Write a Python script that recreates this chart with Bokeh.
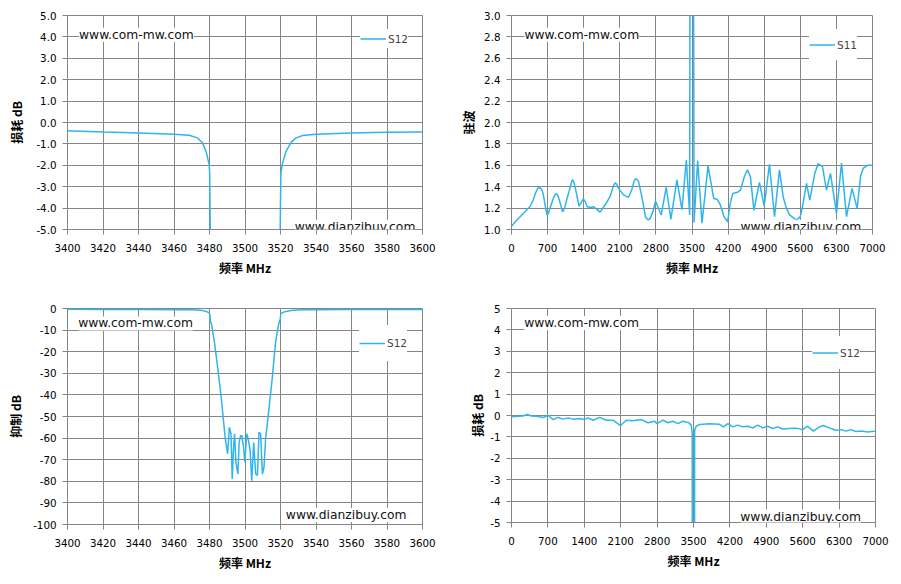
from bokeh.plotting import figure
from bokeh.models import Range1d, FixedTicker, PrintfTickFormatter, Label, Legend, LegendItem
from bokeh.layouts import row, column
from bokeh.embed import file_html
from bokeh.resources import INLINE

# ---------------- data ----------------
# narrow-band S12 (3400-3600 MHz), dB
freq_nb = [3400, 3420.6, 3440.3, 3460, 3468.5, 3473.2, 3476, 3478.3, 3479.8, 3480.1,
           3480.5, 3481.2, 3482.8, 3484.7, 3486.5, 3487.8, 3488.9, 3490.2, 3491.2, 3492.1,
           3492.8, 3493.6, 3494.1, 3494.9, 3496, 3496.7, 3497.5, 3498.2, 3499.2, 3499.9,
           3501, 3502, 3502.9, 3503.8, 3504.9, 3506, 3507, 3507.9, 3508.8, 3509.8,
           3510.7, 3511.6, 3513.5, 3515.3, 3517.2, 3519.0, 3519.8, 3520.2, 3521.2, 3523.1,
           3525.9, 3528.8, 3532.5, 3540, 3559.7, 3580.4, 3600]
s12_nb = [-0.38, -0.44, -0.49, -0.55, -0.60, -0.72, -0.95, -1.42, -1.97, -2.35,
          -5.5, -7.5, -15.7, -28.0, -40.4, -51.2, -60.4, -67.3, -55.0, -58.0,
          -78.9, -63.5, -58.0, -71.2, -76.6, -62.0, -58.9, -58.9, -64.3, -71.2,
          -58.0, -61.2, -65.8, -79.7, -62.0, -76.6, -77.3, -57.3, -58.0, -76.6,
          -73.5, -60.4, -46.5, -32.7, -15.7, -7.0, -5.2, -2.35, -1.89, -1.35,
          -0.93, -0.72, -0.61, -0.55, -0.49, -0.46, -0.44]

# wide-band VSWR (S11), 0-7000 MHz
freq_vswr = [0, 80, 162, 260, 356, 421, 470, 510, 545, 583, 610, 635, 665, 693, 715,
             745, 810, 850, 875, 900, 927, 991, 1030, 1069, 1134, 1165, 1186, 1205, 1231,
             1309, 1350, 1393, 1430, 1471, 1530, 1588, 1650, 1717, 1814, 1912, 1980, 2009,
             2040, 2074, 2171, 2268, 2333, 2370, 2398, 2430, 2463, 2527, 2600, 2650, 2690,
             2741, 2793, 2851, 2903, 3000, 3090, 3208, 3305, 3390, 3455, 3470, 3510, 3540,
             3610, 3694, 3811, 3921, 3986, 4050, 4120, 4190, 4240, 4290, 4394, 4440, 4520,
             4576, 4634, 4700, 4808, 4900, 5002, 5100, 5196, 5267, 5330, 5396, 5526, 5600,
             5654, 5720, 5784, 5881, 5945, 6030, 6108, 6185, 6302, 6399, 6496, 6604, 6701,
             6770, 6818, 6900, 7000]
vswr = [1.03, 1.075, 1.117, 1.165, 1.213, 1.276, 1.345, 1.385, 1.392, 1.378, 1.34, 1.276,
        1.19, 1.133, 1.15, 1.197, 1.29, 1.33, 1.335, 1.318, 1.276, 1.165, 1.2, 1.276,
        1.387, 1.445, 1.467, 1.45, 1.403, 1.219, 1.25, 1.286, 1.26, 1.213, 1.205, 1.213,
        1.19, 1.162, 1.229, 1.308, 1.41, 1.435, 1.425, 1.387, 1.324, 1.30, 1.371, 1.44,
        1.473, 1.47, 1.45, 1.308, 1.115, 1.09, 1.104, 1.165, 1.265, 1.197, 1.135, 1.395,
        1.095, 1.463, 1.185, 1.65, 1.135, 8.0, 8.0, 1.065, 1.645, 1.06, 1.597, 1.29,
        1.283, 1.23, 1.12, 1.072, 1.24, 1.337, 1.35, 1.37, 1.5, 1.557, 1.49, 1.18, 1.44,
        1.218, 1.61, 1.12, 1.558, 1.306, 1.2, 1.135, 1.088, 1.12, 1.243, 1.43, 1.275,
        1.524, 1.615, 1.587, 1.369, 1.524, 1.15, 1.62, 1.12, 1.384, 1.197, 1.5, 1.571,
        1.60, 1.60]

# wide-band S12, 0-7000 MHz, dB
freq_wb = [0, 128, 224, 301, 384, 467, 544, 608, 704, 800, 896, 992, 1088, 1184, 1312,
           1395, 1472, 1568, 1696, 1824, 1952, 2099, 2208, 2336, 2496, 2624, 2752, 2797,
           2912, 3008, 3104, 3200, 3296, 3411, 3456, 3475, 3490, 3510, 3522, 3552, 3616,
           3808, 4000, 4077, 4160, 4256, 4352, 4448, 4544, 4640, 4736, 4832, 4928, 5024,
           5120, 5216, 5344, 5472, 5600, 5696, 5805, 5920, 5997, 6112, 6240, 6336, 6432,
           6528, 6624, 6752, 6848, 7000]
s12_wb = [-0.06, -0.03, -0.02, 0.05, -0.02, -0.03, -0.06, -0.09, 0.0, -0.19, -0.09, -0.17,
          -0.11, -0.17, -0.14, -0.19, -0.11, -0.22, -0.09, -0.22, -0.22, -0.47, -0.22, -0.25,
          -0.19, -0.34, -0.27, -0.38, -0.22, -0.34, -0.27, -0.38, -0.27, -0.34, -0.45, -0.84,
          -60, -60, -0.7, -0.5, -0.42, -0.39, -0.41, -0.53, -0.38, -0.53, -0.45, -0.53,
          -0.5, -0.58, -0.45, -0.58, -0.5, -0.61, -0.53, -0.63, -0.61, -0.59, -0.66, -0.5,
          -0.73, -0.53, -0.47, -0.58, -0.69, -0.66, -0.73, -0.66, -0.75, -0.73, -0.77, -0.73]

ticks_nb = list(range(3400, 3601, 20))
ticks_wb = list(range(0, 7001, 700))
ticks_y1 = [-5, -4, -3, -2, -1, 0, 1, 2, 3, 4, 5]
ticks_y2 = [1.0, 1.2, 1.4, 1.6, 1.8, 2.0, 2.2, 2.4, 2.6, 2.8, 3.0]
ticks_y3 = list(range(-100, 1, 10))
ticks_y4 = [-5, -4, -3, -2, -1, 0, 1, 2, 3, 4, 5]

xlabel = "频率 MHz"
wm1 = "www.com-mw.com"
wm2 = "www.dianzibuy.com"

# ---------------- style ----------------
GRID = "#858585"
LINE = "#2EB5EC"
TFONT = "DejaVu Sans"
CJK = "Noto Sans CJK SC"


def make_fig(xr, yr, xt, yt, yfmt, ylab, fw, fh, bl, br, bt, bb, ystand):
    p = figure(frame_width=fw, frame_height=fh,
               min_border_left=bl, min_border_right=br,
               min_border_top=bt, min_border_bottom=bb,
               x_range=Range1d(*xr), y_range=Range1d(*yr),
               output_backend="svg", toolbar_location=None)
    p.background_fill_color = "white"
    p.border_fill_color = "white"
    p.outline_line_color = GRID
    p.outline_line_width = 1
    p.xaxis.ticker = FixedTicker(ticks=xt)
    p.yaxis.ticker = FixedTicker(ticks=yt)
    p.xaxis.formatter = PrintfTickFormatter(format="%d")
    p.yaxis.formatter = PrintfTickFormatter(format=yfmt)
    for ax in (p.xaxis[0], p.yaxis[0]):
        ax.axis_line_color = GRID
        ax.major_tick_line_color = GRID
        ax.major_tick_out = 5
        ax.major_tick_in = 0
        ax.minor_tick_line_color = None
        ax.major_label_text_font = TFONT
        ax.major_label_text_font_size = "10.3px"
        ax.major_label_text_color = "black"
        ax.axis_label_text_font = CJK
        ax.axis_label_text_font_style = "bold"
        ax.axis_label_text_font_size = "12px"
        ax.axis_label_text_color = "black"
    p.xaxis.axis_label = xlabel
    p.yaxis.axis_label = ylab
    p.xaxis.major_label_standoff = 9
    p.xaxis.axis_label_standoff = 4
    p.yaxis.major_label_standoff = 6
    p.yaxis.axis_label_standoff = ystand
    p.xgrid.grid_line_color = GRID
    p.ygrid.grid_line_color = GRID
    p.xgrid.grid_line_width = 1
    p.ygrid.grid_line_width = 1
    return p


def add_line(p, x, y, name, loc, pad, lh):
    r = p.line(x, y, line_color=LINE, line_width=1.5)
    leg = Legend(items=[LegendItem(label=name, renderers=[r])], location=loc,
                 padding=pad, margin=0, spacing=0, glyph_width=26, glyph_height=lh,
                 label_height=lh, label_standoff=2, border_line_color=None,
                 background_fill_color="white", background_fill_alpha=1.0,
                 label_text_font=TFONT, label_text_font_size="10.5px",
                 label_text_baseline="middle")
    p.add_layout(leg)


def add_wm(p, x, y, txt):
    p.add_layout(Label(x=x, y=y, text=txt, text_font=TFONT, text_font_size="12.3px",
                       text_baseline="middle", text_align="left", text_color="#111111",
                       background_fill_color="white"))


# panel 1
p1 = make_fig((3400, 3600), (-5, 5), ticks_nb, ticks_y1, "%.1f", "损耗 dB",
              355, 214, 67, 24, 12, 56, 8)
add_line(p1, freq_nb, s12_nb, "S12", (293, 181), 3, 19)
add_wm(p1, 3406.5, 4.1, wm1)
add_wm(p1, 3528.0, -4.88, wm2)

# panel 2
p2 = make_fig((0, 7000), (1.0, 3.0), ticks_wb, ticks_y2, "%.1f", "驻波",
              361, 214, 65, 17, 15, 53, 4)
add_line(p2, freq_vswr, vswr, "S11", (298, 169), 6, 31)
add_wm(p2, 250, 2.82, wm1)
add_wm(p2, 4440, 1.025, wm2)

# panel 3
p3 = make_fig((3400, 3600), (-100, 0), ticks_nb, ticks_y3, "%d", "抑制 dB",
              355, 216, 67, 24, 23, 48, 6)
add_line(p3, freq_nb, s12_nb, "S12", (292, 163), 6, 36)
add_wm(p3, 3406.0, -6.9, wm1)
add_wm(p3, 3523.0, -95.6, wm2)

# panel 4
p4 = make_fig((0, 7000), (-5, 5), ticks_wb, ticks_y4, "%d", "损耗 dB",
              364, 214, 65, 14, 26, 47, 1)
add_line(p4, freq_wb, s12_wb, "S12", (301, 153), 6, 33)
add_wm(p4, 245, 4.32, wm1)
add_wm(p4, 4400, -4.72, wm2)

layout = column(row(p1, p2), row(p3, p4))
open("out.html", "w").write(file_html(layout, INLINE))
